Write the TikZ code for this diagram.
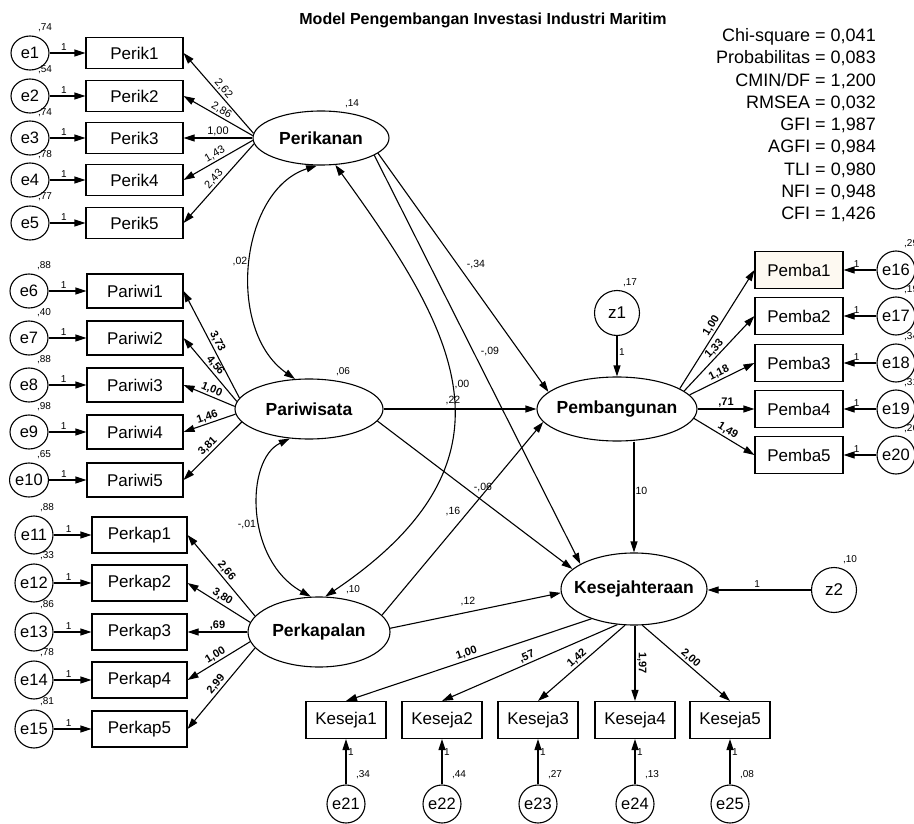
\documentclass[tikz,border=0pt]{standalone}
\usepackage{fontspec}
\setmainfont{Liberation Sans}
\usetikzlibrary{arrows.meta,shapes.geometric}
\definecolor{cream}{RGB}{253,249,241}
\begin{document}
\begin{tikzpicture}[x=1pt,y=-1pt,
  arr/.style={-{Triangle[length=11pt,width=7pt]}, line width=1.1pt},
  darr/.style={{Triangle[length=11pt,width=7pt]}-{Triangle[length=11pt,width=7pt]}, line width=1.1pt},
  obsbox/.style={draw, rectangle, line width=1.1pt, inner sep=0pt, font=\fontsize{17}{20}\selectfont},
  perikbox/.style={obsbox, minimum width=97pt, minimum height=31pt},
  pariwibox/.style={obsbox, minimum width=96pt, minimum height=34pt},
  perkapbox/.style={obsbox, minimum width=95pt, minimum height=36pt},
  pembabox/.style={obsbox, minimum width=88pt, minimum height=37pt},
  kesejabox/.style={obsbox, minimum width=80pt, minimum height=37pt},
  errA/.style={draw, ellipse, line width=1.1pt, inner sep=0pt, minimum width=38pt, minimum height=34pt, font=\fontsize{16.5}{20}\selectfont},
  errB/.style={draw, circle, line width=1.1pt, inner sep=0pt, minimum size=38pt, font=\fontsize{16.5}{20}\selectfont},
  zc/.style={draw, circle, line width=1.1pt, inner sep=0pt, minimum size=45pt, font=\fontsize{17}{20}\selectfont},
  latent/.style={draw, ellipse, line width=1.1pt, inner sep=0pt, font=\bfseries\fontsize{17.5}{20}\selectfont},
  varlbl/.style={font=\fontsize{10}{12}\selectfont, inner sep=0pt},
  onelbl/.style={font=\fontsize{10}{12}\selectfont, inner sep=1.5pt},
  pathlbl/.style={font=\fontsize{10.5}{12}\selectfont, inner sep=0pt},
  ldn/.style={font=\fontsize{11}{13}\selectfont, sloped, above, pos=0.5, inner sep=1.5pt},
  ldb/.style={font=\bfseries\fontsize{11}{13}\selectfont, sloped, above, pos=0.5, inner sep=1.5pt},
  statlbl/.style={font=\fontsize{18}{22}\selectfont, inner sep=0pt}
]
\useasboundingbox (0,0) rectangle (914,824);
\clip (0,0) rectangle (914,824);

% title
\node[font=\bfseries\fontsize{16}{19}\selectfont] (title) at (483,20) {Model Pengembangan Investasi Industri Maritim};

% fit statistics
\foreach \t [count=\i from 0] in {{Chi-square = 0,041},{Probabilitas = 0,083},{CMIN/DF = 1,200},{RMSEA = 0,032},{GFI = 1,987},{AGFI = 0,984},{TLI = 0,980},{NFI = 0,948},{CFI = 1,426}}
  \node[statlbl, anchor=base east] (stat\i) at (876,{41.5+22.3*\i}) {\t};

% latent variables
\node[latent, minimum width=136pt, minimum height=54pt] (perikanan) at (321,138) {\makebox[0pt]{Perikanan}};
\node[latent, minimum width=148pt, minimum height=60pt] (pariwisata) at (309,409) {\makebox[0pt]{Pariwisata}};
\node[latent, minimum width=142pt, minimum height=70pt] (perkapalan) at (319,632) {\makebox[0pt]{Perkapalan}};
\node[latent, minimum width=160pt, minimum height=64pt] (pemb) at (617,409) {\makebox[0pt]{Pembangunan}};
\node[latent, minimum width=146pt, minimum height=72pt] (kese) at (634,589) {\makebox[0pt]{Kesejahteraan}};

\node[varlbl] (vperikanan) at (352,104) {,14};
\node[varlbl] (vpariwisata) at (343,372) {,06};
\node[varlbl] (vperkapalan) at (353,590) {,10};

% ---------- Perikanan indicators
\node[errA] (e1) at (30,53) {e1};
\node[errA] (e2) at (30,96) {e2};
\node[errA] (e3) at (30,138) {e3};
\node[errA] (e4) at (30,180) {e4};
\node[errA] (e5) at (30,223) {e5};
\node[perikbox] (perik1) at (134.5,53) {Perik1};
\node[perikbox] (perik2) at (134.5,96) {Perik2};
\node[perikbox] (perik3) at (134.5,138) {Perik3};
\node[perikbox] (perik4) at (134.5,180) {Perik4};
\node[perikbox] (perik5) at (134.5,223) {Perik5};
\node[varlbl] (ve1) at (45,28) {,74};
\node[varlbl] (ve2) at (45,70) {,54};
\node[varlbl] (ve3) at (45,113) {,74};
\node[varlbl] (ve4) at (45,155) {,78};
\node[varlbl] (ve5) at (45,197) {,77};
\foreach \k in {1,...,5} \draw[arr] (e\k) -- node[onelbl,pos=0.4,above]{1} (perik\k);
\draw[arr] (perikanan.176) -- node[ldn]{2,62} (perik1.east);
\draw[arr] (perikanan.178) -- node[ldn]{2,86} (perik2.east);
\draw[arr] (perikanan.180) -- node[ldn]{1,00} (perik3.east);
\draw[arr] (perikanan.182) -- node[ldn]{1,43} (perik4.east);
\draw[arr] (perikanan.185) -- node[ldn]{2,43} (perik5.east);

% ---------- Pariwisata indicators
\node[errA] (e6) at (29,291) {e6};
\node[errA] (e7) at (29,338) {e7};
\node[errA] (e8) at (29,385) {e8};
\node[errA] (e9) at (29,432) {e9};
\node[errA] (e10) at (29,480) {e10};
\node[pariwibox] (pariwi1) at (135,291) {Pariwi1};
\node[pariwibox] (pariwi2) at (135,338) {Pariwi2};
\node[pariwibox] (pariwi3) at (135,385) {Pariwi3};
\node[pariwibox] (pariwi4) at (135,432) {Pariwi4};
\node[pariwibox] (pariwi5) at (135,480) {Pariwi5};
\node[varlbl] (ve6) at (44,266) {,88};
\node[varlbl] (ve7) at (44,313) {,40};
\node[varlbl] (ve8) at (44,360) {,88};
\node[varlbl] (ve9) at (44,407) {,98};
\node[varlbl] (ve10) at (44,455) {,65};
\foreach \k in {6,...,10} {\pgfmathtruncatemacro{\m}{\k-5}\draw[arr] (e\k) -- node[onelbl,pos=0.4,above]{1} (pariwi\m);}
\draw[arr] (pariwisata.171) -- node[ldb]{3,73} (pariwi1.east);
\draw[arr] (pariwisata.174) -- node[ldb]{4,56} (pariwi2.east);
\draw[arr] (pariwisata.178) -- node[ldb]{1,00} (pariwi3.east);
\draw[arr] (pariwisata.184) -- node[ldb]{1,46} (pariwi4.east);
\draw[arr] (pariwisata.191) -- node[ldb]{3,81} (pariwi5.east);

% ---------- Perkapalan indicators
\node[errB] (e11) at (34,535) {e11};
\node[errB] (e12) at (34,583) {e12};
\node[errB] (e13) at (34,632) {e13};
\node[errB] (e14) at (34,680) {e14};
\node[errB] (e15) at (34,729) {e15};
\node[perkapbox] (perkap1) at (139.5,535) {Perkap1};
\node[perkapbox] (perkap2) at (139.5,583) {Perkap2};
\node[perkapbox] (perkap3) at (139.5,632) {Perkap3};
\node[perkapbox] (perkap4) at (139.5,680) {Perkap4};
\node[perkapbox] (perkap5) at (139.5,729) {Perkap5};
\node[varlbl] (ve11) at (47,508) {,88};
\node[varlbl] (ve12) at (47,556) {,33};
\node[varlbl] (ve13) at (47,605) {,86};
\node[varlbl] (ve14) at (47,653) {,78};
\node[varlbl] (ve15) at (47,702) {,81};
\foreach \k in {11,...,15} {\pgfmathtruncatemacro{\m}{\k-10}\draw[arr] (e\k) -- node[onelbl,pos=0.4,above]{1} (perkap\m);}
\draw[arr] (perkapalan.166) -- node[ldb]{2,66} (perkap1.east);
\draw[arr] (perkapalan.172) -- node[ldb]{3,80} (perkap2.east);
\draw[arr] (perkapalan.180) -- node[ldb]{,69} (perkap3.east);
\draw[arr] (perkapalan.188) -- node[ldb]{1,00} (perkap4.east);
\draw[arr] (perkapalan.194) -- node[ldb]{2,99} (perkap5.east);

% ---------- Pembangunan indicators
\node[zc] (z1) at (617,313) {z1};
\node[varlbl] (vz1) at (630,283) {,17};
\draw[arr] (z1) -- node[onelbl,pos=0.4,right]{1} (pemb);
\node[pembabox, fill=cream] (pemba1) at (799,270) {Pemba1};
\node[pembabox] (pemba2) at (799,316) {Pemba2};
\node[pembabox] (pemba3) at (799,363) {Pemba3};
\node[pembabox] (pemba4) at (799,409) {Pemba4};
\node[pembabox] (pemba5) at (799,455) {Pemba5};
\node[errB] (e16) at (896,270) {e16};
\node[errB] (e17) at (896,316) {e17};
\node[errB] (e18) at (896,363) {e18};
\node[errB] (e19) at (896,409) {e19};
\node[errB] (e20) at (896,455) {e20};
\node[varlbl, anchor=west] (ve16) at (904,244) {,29};
\node[varlbl, anchor=west] (ve17) at (904,290) {,19};
\node[varlbl, anchor=west] (ve18) at (904,337) {,34};
\node[varlbl, anchor=west] (ve19) at (904,383) {,31};
\node[varlbl, anchor=west] (ve20) at (904,429) {,26};
\foreach \k in {16,...,20} {\pgfmathtruncatemacro{\m}{\k-15}\draw[arr] (e\k) -- node[onelbl,pos=0.6,above]{1} (pemba\m);}
\draw[arr] (pemb.18) -- node[ldb]{1,00} (pemba1.west);
\draw[arr] (pemb.15) -- node[ldb]{1,33} (pemba2.west);
\draw[arr] (pemb.11) -- node[ldb]{1,18} (pemba3.west);
\draw[arr] (pemb.0) -- node[ldb]{,71} (pemba4.west);
\draw[arr] (pemb.-7) -- node[ldb]{1,49} (pemba5.west);

% ---------- Kesejahteraan indicators
\node[zc] (z2) at (834,590) {z2};
\node[varlbl] (vz2) at (850,560) {,10};
\draw[arr] (z2) -- node[onelbl,pos=0.52,above]{1} (kese.east |- z2.west);
\node[kesejabox] (keseja1) at (346,720) {Keseja1};
\node[kesejabox] (keseja2) at (442,720) {Keseja2};
\node[kesejabox] (keseja3) at (538,720) {Keseja3};
\node[kesejabox] (keseja4) at (635,720) {Keseja4};
\node[kesejabox] (keseja5) at (730,720) {Keseja5};
\node[errB] (e21) at (346,804) {e21};
\node[errB] (e22) at (442,804) {e22};
\node[errB] (e23) at (538,804) {e23};
\node[errB] (e24) at (635,804) {e24};
\node[errB] (e25) at (730,804) {e25};
\node[varlbl] (ve21) at (363,775) {,34};
\node[varlbl] (ve22) at (459,775) {,44};
\node[varlbl] (ve23) at (555,775) {,27};
\node[varlbl] (ve24) at (652,775) {,13};
\node[varlbl] (ve25) at (747,775) {,08};
\foreach \k in {21,...,25} {\pgfmathtruncatemacro{\m}{\k-20}\draw[arr] (e\k) -- node[onelbl,pos=0.72,right]{1} (keseja\m);}
\draw[arr] (kese.215) -- node[ldb]{1,00} (keseja1.north);
\draw[arr] (kese.245) -- node[ldb]{,57} (keseja2.north);
\draw[arr] (kese.256) -- node[ldb]{1,42} (keseja3.north);
\draw[arr] (kese.south -| keseja4.north) -- node[ldb]{1,97} (keseja4.north);
\draw[arr] (kese.283) -- node[ldb]{2,00} (keseja5.north);

% ---------- structural paths
\draw[arr] (perikanan.345) -- (pemb.166);
\draw[arr] (perikanan.342) -- (kese.155);
\draw[arr] (pariwisata.east) -- (pemb.west);
\draw[arr] (pariwisata.-10) -- (kese.162);
\draw[arr] (perkapalan.15) -- (pemb.190);
\draw[arr] (perkapalan.3) -- (kese.183);
\draw[arr] (pemb.south -| kese.north) -- (kese.north);

\node[pathlbl] (lp1) at (476,265) {-,34};
\node[pathlbl] (lp2) at (490,352) {-,09};
\node[pathlbl] (lp3) at (453,401) {,22};
\node[pathlbl] (lp4) at (483,488) {-,06};
\node[pathlbl] (lp5) at (453,512) {,16};
\node[pathlbl] (lp6) at (468,602) {,12};
\node[pathlbl] (lp7) at (640,492) {,10};

% ---------- covariances
\draw[darr] (perikanan.262) .. controls (240,190) and (225,330) .. (pariwisata.115);
\draw[darr] (pariwisata.237) .. controls (245,460) and (245,560) .. (perkapalan.103);
\draw[darr] (perikanan.298) .. controls (454,329) and (531,458) .. (perkapalan.80);
\node[pathlbl] (lc1) at (240,262) {,02};
\node[pathlbl] (lc2) at (247,525) {-,01};
\node[pathlbl] (lc3) at (462,385) {,00};
\end{tikzpicture}
\end{document}
